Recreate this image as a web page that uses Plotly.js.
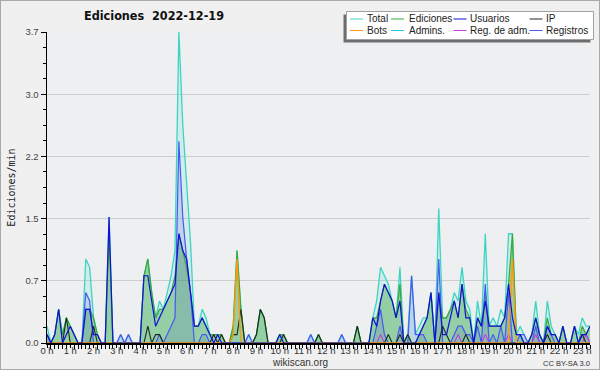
<!DOCTYPE html>
<html><head><meta charset="utf-8">
<script src="https://cdn.plot.ly/plotly-3.0.1.min.js"></script>
<style>
html,body{margin:0;padding:0;background:#f0f0f0;}
#wrap{position:relative;width:600px;height:370px;}
#chart{width:600px;height:370px;}
#frame{position:absolute;left:0;top:0;width:598px;height:368px;border:1px solid #a8a8a8;pointer-events:none;}
</style></head>
<body><div id="wrap"><div id="chart"></div><div id="frame"></div></div>
<script>
// 10-minute bins, index i -> hour i/6 (0:00 .. 23:20)
const hours = Array.from({length:141}, (_, i) => i / 6);

const total = [
 .2,0,.1,.4,.1,.3,.2,.1,0,0,
 1.0,.9,.3,.1,0,0,1.5,0,0,.1,
 0,.1,0,0,0,.8,1.0,.6,.3,.5,
 .4,.6,.8,1.1,3.7,2.6,1.9,1.2,.2,.2,
 .4,.3,.1,.1,.1,.1,0,0,.2,1.1,
 .4,0,.1,0,.1,.4,.3,0,0,0,
 .1,.1,0,0,0,0,0,0,.1,0,
 .1,0,0,0,0,0,.1,0,0,0,
 .2,0,0,0,.3,.5,.9,.8,.7,.5,
 .3,.9,0,.1,.8,.1,.2,.3,.3,.6,
 0,1.6,.3,.3,.4,.6,.5,.9,.5,.4,
 0,.5,.2,1.3,.2,.3,.2,.4,.3,1.3,
 1.3,.1,.2,.1,0,.1,.5,.1,0,.5,
 .2,.1,0,.2,0,0,.2,.1,.3,.2,
 .2];
const ediciones = [
 .1,0,.1,.4,.1,.3,.2,.1,0,0,
 .4,.4,.3,.1,0,0,1.3,0,0,0,
 0,0,0,0,0,.8,1.0,.6,.3,.4,
 .4,.5,.6,.8,1.3,1.1,.9,.6,.2,.2,
 .3,.2,.1,.1,.1,.1,0,0,.2,1.1,
 .4,0,0,0,.1,.4,.3,0,0,0,
 .1,.1,0,0,0,0,0,0,0,0,
 .1,0,0,0,0,0,0,0,0,0,
 .2,0,0,0,.3,.3,.5,.7,.6,.5,
 .3,.7,0,.1,0,0,.1,.2,.3,.6,
 0,.6,.3,.3,.4,.5,.3,.7,.4,.3,
 0,.3,.2,.6,.2,.2,.2,.2,.3,.7,
 1.3,.1,.1,0,0,.1,.3,.1,0,.3,
 .1,.1,0,.2,0,0,.2,0,.2,.1,
 .2];
const usuarios = [
 .1,0,.1,.4,0,.1,.2,.1,0,0,
 .4,.4,.1,.1,0,0,1.5,0,0,0,
 0,0,0,0,0,.8,.8,.5,.2,.3,
 .4,.5,.6,.7,1.3,1.1,1.0,.6,.2,.2,
 .3,.2,.1,0,.1,0,0,0,0,0,
 0,0,0,0,0,0,0,0,0,0,
 .1,0,0,0,0,0,0,0,0,0,
 0,0,0,0,0,0,0,0,0,0,
 0,0,0,0,.3,.2,.5,.7,.6,.5,
 .3,.5,0,0,0,0,.1,.2,.3,.6,
 0,.6,.1,.1,.3,.5,.3,.7,.3,.3,
 0,.3,.2,.5,.2,.2,.2,.2,.3,.7,
 .3,.1,.1,0,0,.1,.3,.1,0,.2,
 .1,.1,0,.2,0,0,.2,0,.1,.1,
 .2];
const ip = [
 0,0,0,0,0,.3,0,0,0,0,
 0,0,.2,0,0,0,0,0,0,0,
 0,0,0,0,0,0,.2,0,.1,.1,
 0,0,0,0,0,0,0,0,0,0,
 0,0,0,.1,0,.1,0,0,.1,.1,
 .4,0,0,0,.1,.4,.3,0,0,0,
 0,.1,0,0,0,0,0,0,0,0,
 .1,0,0,0,0,0,0,0,0,0,
 .2,0,0,0,0,0,0,0,.1,0,
 0,.1,0,.1,0,0,0,0,0,0,
 0,0,.2,.1,0,0,0,0,.1,0,
 0,0,0,0,0,0,0,0,0,0,
 0,0,0,0,0,0,0,0,0,.1,
 0,0,0,0,0,0,0,0,.1,0,
 0];
const bots = [
 0,0,0,0,0,0,0,0,0,0,
 0,0,0,0,0,0,0,0,0,0,
 0,0,0,0,0,0,0,0,0,0,
 0,0,0,0,0,0,0,0,0,0,
 0,0,0,0,0,0,0,0,.1,1.0,
 0,0,0,0,0,0,0,0,0,0,
 0,0,0,0,0,0,0,0,0,0,
 0,0,0,0,0,0,0,0,0,0,
 0,0,0,0,0,0,0,0,0,0,
 0,0,0,0,0,0,0,0,0,0,
 0,0,0,0,0,0,0,0,0,0,
 0,0,0,0,0,0,0,0,0,0,
 1.0,0,0,0,0,0,0,0,0,0,
 0,0,0,0,0,0,0,0,0,0,
 0];
const admins = [
 0,0,0,0,0,0,0,0,0,0,
 0,0,0,0,0,0,0,0,0,0,
 0,0,0,0,0,0,0,0,0,0,
 0,0,0,0,0,0,0,0,0,0,
 0,0,0,0,0,0,0,0,0,0,
 0,0,0,0,0,0,0,0,0,0,
 0,0,0,0,0,0,0,0,0,0,
 0,0,0,0,0,0,0,0,0,0,
 0,0,0,0,0,0,0,0,0,0,
 0,0,0,0,0,0,0,0,0,0,
 0,0,0,0,0,0,0,0,0,0,
 0,0,0,0,0,0,0,0,0,0,
 0,0,0,0,0,0,0,0,0,0,
 0,0,0,0,0,0,0,0,0,0,
 0];
const regAdm = [
 0,0,0,0,0,0,0,0,0,0,
 0,0,0,0,0,0,0,0,0,0,
 0,0,0,0,0,0,0,0,0,0,
 0,0,0,0,0,0,0,0,0,0,
 0,0,0,0,0,0,0,0,0,0,
 0,0,0,0,0,0,0,0,0,0,
 0,0,0,0,0,0,0,0,0,0,
 0,0,0,0,0,0,0,0,0,0,
 0,0,0,0,0,0,.1,0,0,0,
 0,0,0,0,0,0,0,0,0,0,
 0,0,0,0,0,0,.1,0,0,0,
 0,0,0,.1,0,0,0,0,0,.1,
 0,0,0,0,0,0,.1,0,0,0,
 0,0,0,0,0,0,0,0,0,.1,
 0];
const registros = [
 .1,0,0,0,0,0,0,0,0,0,
 .6,.5,0,0,0,0,0,0,0,.1,
 0,.1,0,0,0,0,0,0,0,.1,
 0,.1,.2,.3,2.4,1.5,1.0,.6,0,0,
 .1,.1,0,0,0,0,0,0,0,0,
 0,0,.1,0,0,0,0,0,0,0,
 0,0,0,0,0,0,0,0,.1,0,
 0,0,0,0,0,0,.1,0,0,0,
 0,0,0,0,0,.2,.4,.1,0,0,
 0,.2,0,0,.8,.1,.1,.1,0,0,
 0,1.0,0,0,0,.1,.2,.2,.1,.1,
 0,.2,0,.7,0,.1,0,.2,0,.6,
 0,0,.1,.1,0,0,.2,0,0,.2,
 .1,0,0,0,0,0,0,0,.1,.1,
 0];

const yTickVals = [0, 0.74, 1.48, 2.22, 2.96, 3.7];
const yTickText = ['0.0','0.7','1.5','2.2','3.0','3.7'];

const C = {
  total:'#3ed4c4', ed:'#3aa83a', us:'#1010d8', ip:'#1c2a1c',
  bots:'#ff9a10', adm:'#2cc4e6', regadm:'#c23ee0', reg:'#4858f4'
};

const FONT_S = '"Liberation Sans", Arial, sans-serif';
const FONT_T = '"DejaVu Sans Condensed", "Liberation Sans", sans-serif';

function line(y, name, color, w, fill, fillcolor){
  const t = {x:hours, y:y, name:name, type:'scatter', mode:'lines',
    line:{color:color, width:w}, hoverinfo:'skip'};
  if (fill){ t.fill='tozeroy'; t.fillcolor=fillcolor; }
  return t;
}
const traces = [
  line(total, 'Total', C.total, 1.3, true, 'rgba(64,224,208,0.16)'),
  line(ediciones, 'Ediciones', C.ed, 1.2, true, 'rgba(60,165,60,0.4)'),
  line(registros, 'Registros', C.reg, 1.2, true, 'rgba(40,60,210,0.12)'),
  line(regAdm, 'Reg. de adm.', C.regadm, 1.1),
  line(admins, 'Admins.', C.adm, 1.1),
  line(ip, 'IP', C.ip, 1.1),
  line(bots, 'Bots', C.bots, 1.4),
  line(usuarios, 'Usuarios', C.us, 1.2)
];

// layout geometry (pixels)
const L = 47, R = 590, T = 32, B = 343;
const xp = px => (px - L) / (R - L);
const yp = py => (B - py) / (B - T);

const shapes = [], annotations = [];
// legend box with shadow
shapes.push({type:'rect', xref:'paper', yref:'paper', x0:xp(343.5), x1:xp(590.5), y0:yp(42.5), y1:yp(14.5),
  fillcolor:'#6e6e6e', line:{width:0}, layer:'above'});
shapes.push({type:'rect', xref:'paper', yref:'paper', x0:xp(346.5), x1:xp(593.5), y0:yp(39.5), y1:yp(11.5),
  fillcolor:'#ffffff', line:{color:'#a0a0a0', width:1}, layer:'above'});
const legNames = [['Total','Ediciones','Usuarios','IP'],['Bots','Admins.','Reg. de adm.','Registros']];
const legColors = [[C.total,C.ed,C.us,C.ip],[C.bots,C.adm,C.regadm,C.reg]];
const colLine = [350, 391, 453.5, 529.5], colText = [366, 408, 469, 545], rowY = [19, 30.5];
for (let r = 0; r < 2; r++) for (let c = 0; c < 4; c++){
  shapes.push({type:'line', xref:'paper', yref:'paper', x0:xp(colLine[c]), x1:xp(colLine[c]+13),
    y0:yp(rowY[r]), y1:yp(rowY[r]), line:{color:legColors[r][c], width:1}, layer:'above'});
  annotations.push({xref:'paper', yref:'paper', x:xp(colText[c]), y:yp(rowY[r]), xanchor:'left', yanchor:'middle',
    text:legNames[r][c], showarrow:false, borderpad:0, font:{family:FONT_S, size:10, color:'#222'}});
}
annotations.push({xref:'paper', yref:'paper', x:xp(300), y:yp(362.5), xanchor:'center', yanchor:'middle',
  text:'wikiscan.org', showarrow:false, borderpad:0, font:{family:FONT_S, size:10, color:'#333'}});
annotations.push({xref:'paper', yref:'paper', x:xp(591), y:yp(363), xanchor:'right', yanchor:'middle',
  text:'CC BY-SA 3.0', showarrow:false, borderpad:0, font:{family:FONT_S, size:7.5, color:'#333'}});

const layout = {
  width:600, height:370,
  margin:{l:L, r:600-R, t:T, b:370-B},
  paper_bgcolor:'#f0f0f0', plot_bgcolor:'#edeff1',
  showlegend:false,
  title:{text:'<b>Ediciones\u00a0 2022-12-19</b>', font:{family:FONT_T, size:12.5, color:'#111'},
    xref:'paper', x:xp(154), xanchor:'center', yref:'container', y:1-16/370, yanchor:'middle'},
  xaxis:{range:[0, 140/6], tickmode:'linear', tick0:0, dtick:1, ticksuffix:' h', tickangle:0,
    ticks:'outside', ticklen:3, tickwidth:1, tickcolor:'#000', ticklabelstandoff:-5,
    showline:true, linecolor:'#000', linewidth:1.5, showgrid:false, zeroline:false,
    tickfont:{family:FONT_S, size:9.5, color:'#333'},
    minor:{tickmode:'linear', tick0:0, dtick:1/6, ticks:'outside', ticklen:4, tickcolor:'#000', showgrid:false}},
  yaxis:{range:[0, 3.7], tickmode:'array', tickvals:yTickVals, ticktext:yTickText,
    ticks:'outside', ticklen:5, tickcolor:'#000', showline:true, linecolor:'#000', linewidth:1.5,
    showgrid:true, gridcolor:'#cdcdcd', gridwidth:1, zeroline:false,
    tickfont:{family:FONT_S, size:9.5, color:'#444'},
    minor:{tickmode:'linear', tick0:0, dtick:0.185, ticks:'outside', ticklen:3, tickcolor:'#000', showgrid:false},
    title:{text:'Ediciones/min', font:{family:'"DejaVu Sans Mono", monospace', size:10, color:'#222'}, standoff:8}},
  shapes:shapes, annotations:annotations
};
Plotly.newPlot('chart', traces, layout, {staticPlot:true, displayModeBar:false});
</script></body></html>
